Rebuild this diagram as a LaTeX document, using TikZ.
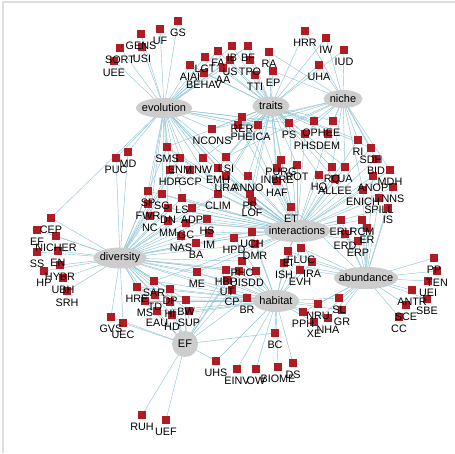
\documentclass[tikz,border=0pt]{standalone}
\usepackage{fontspec}
\setmainfont{Liberation Sans}
\usetikzlibrary{shapes.geometric}
\pgfdeclarelayer{bg}\pgfdeclarelayer{fg}\pgfsetlayers{bg,main,fg}
\definecolor{sqred}{RGB}{176,28,36}
\definecolor{hubgray}{RGB}{205,205,205}
\definecolor{edgeblue}{RGB}{145,198,214}
\definecolor{framegray}{RGB}{222,222,222}
\newcommand\myleaf[4]{%
  \node[sq] (#1) at (#2,#3-12) {};
  \begin{pgfonlayer}{fg}\node[lab] (#1-l) at (#2,#3) {#4};\end{pgfonlayer}}
\begin{document}
\begin{tikzpicture}[x=1pt,y=-1pt,
  sq/.style={rectangle,fill=sqred,minimum size=8.8pt,inner sep=0pt},
  lab/.style={font=\fontsize{10.8}{12}\selectfont,inner sep=0pt,text height=7.7pt,text depth=0pt},
  hub/.style={ellipse,fill=hubgray,inner sep=0pt,font=\fontsize{11}{12}\selectfont},
  edge/.style={draw=edgeblue,line width=0.45pt}]
\useasboundingbox (0,0) rectangle (455,453);
\begin{pgfonlayer}{bg}
\fill[white] (0,0) rectangle (455,453);
\draw[framegray,line width=1.2pt] (3,453) -- (3,2) -- (455,2);
\end{pgfonlayer}
% leaves
\myleaf{GS}{178}{33}{GS}
\myleaf{UF}{160}{41}{UF}
\myleaf{GENS}{141}{46}{GENS}
\myleaf{USI}{142}{59}{USI}
\myleaf{SORT}{120}{60}{SORT}
\myleaf{UEE}{114}{73}{UEE}
\myleaf{LGT}{205}{69}{LGT}
\myleaf{FA}{218}{63}{FA}
\myleaf{IB}{232}{58}{IB}
\myleaf{BF}{248}{58}{BF}
\myleaf{AIAI}{190}{77}{AIAI}
\myleaf{US}{230}{72}{US}
\myleaf{TPO}{250}{72}{TPO}
\myleaf{AA}{223}{80}{AA}
\myleaf{BEHAV}{204}{85}{BEHAV}
\myleaf{RA}{269}{64}{RA}
\myleaf{TTI}{255}{87}{TTI}
\myleaf{EP}{273}{83}{EP}
\myleaf{HRR}{305}{43}{HRR}
\myleaf{IW}{326}{50}{IW}
\myleaf{IUD}{344}{62}{IUD}
\myleaf{UHA}{319}{77}{UHA}
\myleaf{NCONS}{212}{141}{NCONS}
\myleaf{RER}{242}{129}{RER}
\myleaf{PH}{238}{137}{PH}
\myleaf{EICA}{258}{137}{EICA}
\myleaf{PS}{289}{135}{PS}
\myleaf{OPH}{314}{133}{OPH}
\myleaf{EE}{333}{133}{EE}
\myleaf{PHS}{305}{146}{PHS}
\myleaf{DEM}{328}{146}{DEM}
\myleaf{RI}{358}{152}{RI}
\myleaf{SDH}{371}{160}{SDH}
\myleaf{BID}{376}{171}{BID}
\myleaf{MDH}{390}{182}{MDH}
\myleaf{ANOP}{373}{188}{ANOP}
\myleaf{ENICH}{363}{202}{ENICH}
\myleaf{NNS}{393}{199}{NNS}
\myleaf{SPILL}{379}{210}{SPILL}
\myleaf{IS}{388}{220}{IS}
\myleaf{RQ}{332}{179}{RQ}
\myleaf{UA}{345}{179}{UA}
\myleaf{HQ}{319}{187}{HQ}
\myleaf{ALLEE}{335}{191}{ALLEE}
\myleaf{ERU}{341}{232}{ERU}
\myleaf{RCM}{362}{232}{RCM}
\myleaf{ER}{367}{240}{ER}
\myleaf{ERD}{345}{246}{ERD}
\myleaf{ERP}{358}{253}{ERP}
\myleaf{PURG}{281}{172}{PURG}
\myleaf{INBRE}{277}{180}{INBRE}
\myleaf{ROT}{297}{177}{ROT}
\myleaf{HAF}{277}{193}{HAF}
\myleaf{ET}{291}{219}{ET}
\myleaf{LSI}{226}{169}{LSI}
\myleaf{EMH}{218}{180}{EMH}
\myleaf{URA}{226}{188}{URA}
\myleaf{ANNO}{248}{188}{ANNO}
\myleaf{CLIM}{218}{206}{CLIM}
\myleaf{PR}{250}{206}{PR}
\myleaf{LOF}{252}{213}{LOF}
\myleaf{SMS}{167}{159}{SMS}
\myleaf{ENM}{180}{170}{ENM}
\myleaf{NW}{203}{170}{NW}
\myleaf{HDF}{170}{182}{HDF}
\myleaf{GCP}{190}{182}{GCP}
\myleaf{PUC}{116}{170}{PUC}
\myleaf{MD}{128}{164}{MD}
\myleaf{SP}{148}{203}{SP}
\myleaf{SG}{162}{206}{SG}
\myleaf{LS}{182}{210}{LS}
\myleaf{FWR}{148}{216}{FWR}
\myleaf{DN}{168}{220}{DN}
\myleaf{ADP}{192}{220}{ADP}
\myleaf{NC}{150}{228}{NC}
\myleaf{MM}{168}{233}{MM}
\myleaf{GC}{186}{235}{GC}
\myleaf{HS}{207}{231}{HS}
\myleaf{IM}{209}{245}{IM}
\myleaf{NAS}{181}{248}{NAS}
\myleaf{BA}{196}{255}{BA}
\myleaf{UCH}{252}{244}{UCH}
\myleaf{HPD}{234}{250}{HPD}
\myleaf{DMR}{255}{256}{DMR}
\myleaf{FLUC}{301}{260}{FLUC}
\myleaf{EI}{288}{263}{EI}
\myleaf{IRA}{312}{274}{IRA}
\myleaf{ISH}{284}{275}{ISH}
\myleaf{EVH}{300}{282}{EVH}
\myleaf{PHC}{242}{273}{PHC}
\myleaf{HBP}{226}{282}{HBP}
\myleaf{UIS}{239}{283}{UIS}
\myleaf{DD}{256}{283}{DD}
\myleaf{UT}{227}{292}{UT}
\myleaf{CP}{232}{302}{CP}
\myleaf{BR}{247}{310}{BR}
\myleaf{ME}{197}{284}{ME}
\myleaf{SAR}{154}{293}{SAR}
\myleaf{HRE}{137}{299}{HRE}
\myleaf{DP}{170}{301}{DP}
\myleaf{TD}{155}{307}{TD}
\myleaf{MS}{145}{313}{MS}
\myleaf{HI}{170}{314}{HI}
\myleaf{BW}{186}{312}{BW}
\myleaf{EAU}{157}{323}{EAU}
\myleaf{SUP}{189}{323}{SUP}
\myleaf{HD}{172}{327}{HD}
\myleaf{GVS}{111}{329}{GVS}
\myleaf{UEC}{123}{335}{UEC}
\myleaf{CEP}{51}{230}{CEP}
\myleaf{EFL}{37}{242}{EF}
\myleaf{NICHER}{56}{248}{NICHER}
\myleaf{SS}{37}{264}{SS}
\myleaf{EN}{58}{263}{EN}
\myleaf{HYBR}{60}{277}{HYBR}
\myleaf{HP}{44}{283}{HP}
\myleaf{UBH}{63}{290}{UBH}
\myleaf{SRH}{67}{303}{SRH}
\myleaf{NRU}{318}{316}{NRU}
\myleaf{SL}{339}{310}{SL}
\myleaf{GR}{342}{322}{GR}
\myleaf{PPH}{303}{324}{PPH}
\myleaf{NHA}{328}{330}{NHA}
\myleaf{XE}{314}{334}{XE}
\myleaf{BC}{275}{345}{BC}
\myleaf{UHS}{216}{373}{UHS}
\myleaf{EINV}{237}{381}{EINV}
\myleaf{OW}{256}{381}{OW}
\myleaf{BIOME}{278}{379}{BIOME}
\myleaf{DS}{293}{375}{DS}
\myleaf{RUH}{142}{427}{RUH}
\myleaf{UEF}{166}{432}{UEF}
\myleaf{PP}{434}{270}{PP}
\myleaf{TEN}{437}{283}{TEN}
\myleaf{UEI}{428}{293}{UEI}
\myleaf{ANTR}{412}{302}{ANTR}
\myleaf{SBE}{427}{311}{SBE}
\myleaf{SCE}{406}{317}{SCE}
\myleaf{CC}{399}{329}{CC}
% hubs
\node[hub,minimum width=56pt,minimum height=20pt] (evolution) at (164,108) {\makebox[0pt]{evolution}};
\node[hub,minimum width=37pt,minimum height=19pt] (traits) at (271,106) {\makebox[0pt]{traits}};
\node[hub,minimum width=39pt,minimum height=18pt] (niche) at (343,99) {\makebox[0pt]{niche}};
\node[hub,minimum width=66pt,minimum height=22pt] (interactions) at (297,231) {\makebox[0pt]{interactions}};
\node[hub,minimum width=53pt,minimum height=21pt] (diversity) at (120,258) {\makebox[0pt]{diversity}};
\node[hub,minimum width=64pt,minimum height=22pt] (abundance) at (366,278) {\makebox[0pt]{abundance}};
\node[hub,minimum width=46pt,minimum height=22pt] (habitat) at (276,301) {\makebox[0pt]{habitat}};
\node[hub,minimum width=26pt,minimum height=26pt] (EFhub) at (185,344) {\makebox[0pt]{EF}};
% edges
\begin{pgfonlayer}{bg}
\foreach \n in {GS,UF,GENS,USI,SORT,UEE,AIAI,LGT,FA,IB,BEHAV,AA,US,BF,NCONS,RER,PH,EICA,SMS,ENM,HDF,GCP,NW,PUC,MD,SP,FWR,SG,NC,LS,EMH,LSI,DN,CLIM,PS,PHS,URA,PR,CEP}
  \draw[edge] (evolution.center) -- (\n.center);
\foreach \n in {HRR,IW,UHA,IUD,RA,EP,TTI,TPO,BF,IB,US,FA,LGT,AA,BEHAV,AIAI,NCONS,RER,PH,EICA,PS,OPH,EE,PHS,DEM,LSI,EMH,URA,ANNO,PR,LOF,PURG,INBRE,ROT,HAF,HQ,RQ,UA,ALLEE,ET,RI,SDH,SMS,NW,CLIM}
  \draw[edge] (traits.center) -- (\n.center);
\foreach \n in {IUD,UHA,IW,HRR,EP,RA,OPH,EE,DEM,PHS,PS,RI,SDH,BID,MDH,ENICH,RQ,UA,NCONS,PH,EICA,LSI}
  \draw[edge] (niche.center) -- (\n.center);
\foreach \n in {ET,PURG,INBRE,ROT,HAF,HQ,ALLEE,RQ,UA,RI,SDH,BID,MDH,ANOP,ENICH,NNS,SPILL,IS,ERU,RCM,ER,ERD,ERP,FLUC,EI,IRA,ISH,EVH,UCH,HPD,DMR,PHC,LOF,PR,ANNO,URA,CLIM,EMH,LSI,HS,ADP,LS,DN,SG,SP,GC,MM,NC,FWR,IM,NAS,BA,HDF,GCP,NW,ENM,SMS,PS,PHS,DEM,EICA,PH,RER,ME,SAR}
  \draw[edge] (interactions.center) -- (\n.center);
\foreach \n in {PUC,MD,SMS,HDF,ENM,SP,SG,FWR,DN,LS,ADP,NC,MM,GC,HS,NAS,IM,BA,CLIM,ME,SAR,HRE,DP,TD,MS,HI,BW,EAU,SUP,HD,GVS,UEC,CEP,EFL,NICHER,SS,EN,HYBR,HP,UBH,SRH,PHC,HBP,UT,CP,BR,UCH,HPD,DMR,UIS,DD}
  \draw[edge] (diversity.center) -- (\n.center);
\foreach \n in {ERU,RCM,ER,ERD,ERP,IS,SPILL,ENICH,NNS,ANOP,FLUC,IRA,EVH,EI,SL,GR,NRU,NHA,XE,PPH,PP,TEN,UEI,ANTR,SBE,SCE,CC,ET,ISH}
  \draw[edge] (abundance.center) -- (\n.center);
\foreach \n in {PHC,HBP,UIS,DD,UT,CP,BR,UCH,DMR,HPD,FLUC,EI,ISH,IRA,EVH,NRU,SL,GR,PPH,XE,NHA,BC,UHS,EINV,OW,BIOME,DS,ME,DP,BW,SAR,HRE,SUP,HI,MS,HD,TD,EAU}
  \draw[edge] (habitat.center) -- (\n.center);
\foreach \n in {RUH,UEF,UHS,BC,GVS,UEC,SUP,HD,HI,BW,EAU,MS,CP,PHC,UT,BR,DP,HBP}
  \draw[edge] (EFhub.center) -- (\n.center);
\end{pgfonlayer}
\end{tikzpicture}
\end{document}
